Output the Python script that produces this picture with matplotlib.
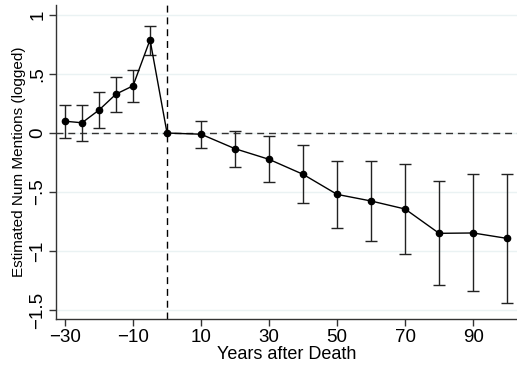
import numpy as np
import matplotlib.pyplot as plt
from matplotlib.ticker import FixedLocator

plt.rcParams['font.family'] = ['Liberation Sans', 'DejaVu Sans']

years = [-30, -25, -20, -15, -10, -5, 0, 10, 20, 30, 40, 50, 60, 70, 80, 90, 100]
coef = [0.10, 0.087, 0.195, 0.33, 0.40, 0.79, 0.0, -0.01, -0.133, -0.223, -0.35,
        -0.52, -0.576, -0.644, -0.85, -0.847, -0.893]
ci_hi = [0.24, 0.24, 0.35, 0.477, 0.53, 0.91, 0.0, 0.10, 0.02, -0.025, -0.104,
         -0.234, -0.234, -0.263, -0.41, -0.347, -0.347]
ci_lo = [-0.045, -0.068, 0.04, 0.178, 0.26, 0.66, 0.0, -0.125, -0.285, -0.418, -0.596,
         -0.805, -0.913, -1.025, -1.288, -1.34, -1.44]

xticks = [-30, -10, 10, 30, 50, 70, 90]
xtick_labels = ['\u221230', '\u221210', '10', '30', '50', '70', '90']
yticks = [1, 0.5, 0, -0.5, -1, -1.5]
ytick_labels = ['1', '.5', '0', '\u2212.5', '\u22121', '\u22121.5']

coef = np.array(coef)
ci_hi = np.array(ci_hi)
ci_lo = np.array(ci_lo)
has_ci = ci_hi != ci_lo

fig = plt.figure(figsize=(5.17, 3.68), dpi=100)
ax = fig.add_axes([56 / 517, 49 / 368, 461 / 517, 314 / 368])

for y in yticks:
    ax.axhline(y, color='#eaf2f3', lw=1.0, zorder=0)

ax.axhline(0, color='#333333', lw=1.0, ls=(0, (5, 3.5)), zorder=1)
ax.axvline(0, color='black', lw=1.0, ls=(0, (5, 3.5)), zorder=1)

ax.errorbar(np.array(years)[has_ci], coef[has_ci],
            yerr=[coef[has_ci] - ci_lo[has_ci], ci_hi[has_ci] - coef[has_ci]],
            fmt='none', ecolor='#222222', elinewidth=1.0, capsize=4, capthick=1.0, zorder=2)
ax.plot(years, coef, color='black', lw=1.0, marker='o', markersize=4.5, zorder=3)

ax.set_xlim(-32.65, 102.9)
ax.set_ylim(-1.576, 1.085)
ax.xaxis.set_major_locator(FixedLocator(xticks))
ax.set_xticklabels(xtick_labels, fontsize=13.5)
ax.yaxis.set_major_locator(FixedLocator(yticks))
ax.set_yticklabels(ytick_labels, fontsize=13.5, rotation=90, va='center')
ax.tick_params(length=5, width=1, color='#333333', pad=2)

for s in ['top', 'right']:
    ax.spines[s].set_visible(False)
for s in ['left', 'bottom']:
    ax.spines[s].set_color('#333333')
    ax.spines[s].set_linewidth(1.0)

ax.set_xlabel('Years after Death', fontsize=13, labelpad=0)
ax.set_ylabel('Estimated Num Mentions (logged)', fontsize=11, labelpad=2)

fig.savefig('out.png', dpi=100)
